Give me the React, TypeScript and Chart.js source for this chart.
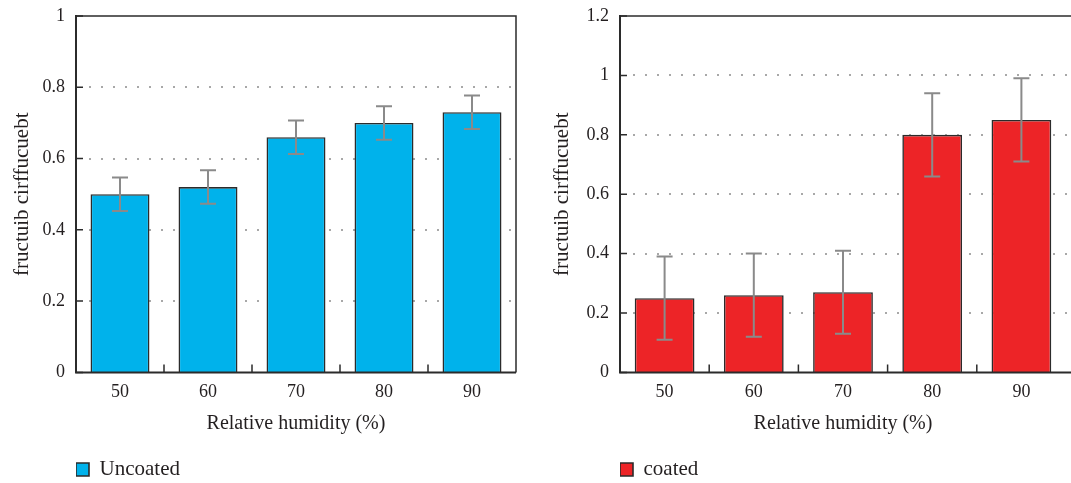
import React, { useEffect, useRef } from "react";
import { Chart, registerables } from "chart.js";

Chart.register(...registerables);

const categories = ["50", "60", "70", "80", "90"];
const uncoatedValues = [0.5, 0.52, 0.66, 0.7, 0.73];
const uncoatedErrors = [0.047, 0.047, 0.047, 0.047, 0.047];
const coatedValues = [0.25, 0.26, 0.27, 0.8, 0.85];
const coatedErrors = [0.14, 0.14, 0.14, 0.14, 0.14];
const leftYTicks = [0, 0.2, 0.4, 0.6, 0.8, 1];
const rightYTicks = [0, 0.2, 0.4, 0.6, 0.8, 1, 1.2];

const FONT = "'Liberation Serif', 'DejaVu Serif', serif";
const TEXT = "#231f20";

type PanelCfg = {
  label: string;
  values: number[];
  errors: number[];
  ticks: number[];
  color: string;
  width: number;
  left: number;
  yWidth: number;
  padRight: number;
  closeRight: boolean;
};

function makePlugin(cfg: PanelCfg) {
  return {
    id: "frameErr",
    beforeDatasetsDraw(chart: any) {
      const { ctx, chartArea: a, scales } = chart;
      const y = scales.y;
      const right = cfg.closeRight ? a.right : chart.width;
      ctx.save();
      ctx.fillStyle = "#666";
      y.ticks.forEach((t: any) => {
        if (t.value === y.min || t.value === y.max) return;
        const py = Math.round(y.getPixelForValue(t.value));
        for (let px = a.left + 14; px < right - 3; px += 12) {
          ctx.fillRect(px - 0.75, py - 0.75, 1.5, 1.5);
        }
      });
      ctx.restore();
    },
    afterDatasetsDraw(chart: any) {
      const { ctx, chartArea: a, scales } = chart;
      const x = scales.x;
      const y = scales.y;
      const right = cfg.closeRight ? a.right : chart.width;
      const meta = chart.getDatasetMeta(0);
      const data = chart.data.datasets[0].data as number[];
      ctx.save();
      // error bars
      ctx.strokeStyle = "#8a8a8a";
      ctx.lineWidth = 2;
      meta.data.forEach((bar: any, i: number) => {
        const v = data[i];
        const e = cfg.errors[i];
        const top = y.getPixelForValue(v + e);
        const bot = y.getPixelForValue(v - e);
        const cx = bar.x;
        ctx.beginPath();
        ctx.moveTo(cx, top);
        ctx.lineTo(cx, bot);
        ctx.moveTo(cx - 8, top);
        ctx.lineTo(cx + 8, top);
        ctx.moveTo(cx - 8, bot);
        ctx.lineTo(cx + 8, bot);
        ctx.stroke();
      });
      // frame
      ctx.strokeStyle = "#2b2b2b";
      ctx.lineWidth = 1.5;
      ctx.beginPath();
      ctx.moveTo(a.left, a.top);
      ctx.lineTo(right, a.top);
      if (cfg.closeRight) ctx.lineTo(a.right, a.bottom);
      ctx.stroke();
      ctx.lineWidth = 2;
      ctx.beginPath();
      ctx.moveTo(a.left, a.top - 1);
      ctx.lineTo(a.left, a.bottom);
      ctx.lineTo(right, a.bottom);
      ctx.stroke();
      // y tick marks (inward)
      ctx.lineWidth = 1.5;
      ctx.beginPath();
      y.ticks.forEach((t: any) => {
        const py = y.getPixelForValue(t.value);
        ctx.moveTo(a.left, py);
        ctx.lineTo(a.left + 7, py);
      });
      // x tick marks at category boundaries
      for (let i = 0; i < categories.length - 1; i++) {
        const px = (x.getPixelForValue(i) + x.getPixelForValue(i + 1)) / 2;
        ctx.moveTo(px, a.bottom);
        ctx.lineTo(px, a.bottom - 8);
      }
      ctx.stroke();
      ctx.restore();
    },
  };
}

function Panel({ cfg }: { cfg: PanelCfg }) {
  const ref = useRef<HTMLCanvasElement>(null);
  useEffect(() => {
    if (!ref.current) return;
    const chart = new Chart(ref.current, {
      type: "bar",
      data: {
        labels: categories,
        datasets: [
          {
            label: cfg.label,
            data: cfg.values,
            backgroundColor: cfg.color,
            borderColor: "#2b2b2b",
            borderWidth: 1.6,
            categoryPercentage: 1,
            barPercentage: 0.67,
          },
        ],
      },
      options: {
        responsive: false,
        animation: false,
        layout: { padding: { left: 0, right: cfg.padRight, top: 16, bottom: -7 } },
        plugins: {
          tooltip: { enabled: false },
          legend: {
            display: true,
            position: "bottom",
            align: "start",
            fullSize: false,
            labels: {
              boxWidth: 13,
              boxHeight: 13,
              padding: 0,
              color: TEXT,
              font: { family: FONT, size: 21 },
            },
          },
        },
        scales: {
          x: {
            type: "category",
            grid: { display: false, drawTicks: false },
            border: { display: false },
            ticks: { color: TEXT, font: { family: FONT, size: 18 }, padding: 9 },
            title: {
              display: true,
              text: "Relative humidity (%)",
              color: TEXT,
              font: { family: FONT, size: 20 },
              padding: { top: 0, bottom: 23 },
            },
          },
          y: {
            type: "linear",
            min: 0,
            max: cfg.ticks[cfg.ticks.length - 1],
            grid: { display: false, drawTicks: false },
            border: { display: false },
            afterBuildTicks: (s: any) => {
              s.ticks = cfg.ticks.map((v) => ({ value: v }));
            },
            afterFit: (s: any) => {
              s.width = cfg.yWidth;
              s.paddingTop = 0;
              s.paddingBottom = 0;
            },
            ticks: {
              color: TEXT,
              font: { family: FONT, size: 18 },
              padding: 11,
              callback: (v: any) => String(v),
            },
            title: {
              display: true,
              text: "fructuib cirffucuebt",
              color: TEXT,
              font: { family: FONT, size: 21 },
              padding: { top: 10, bottom: 0 },
            },
          },
        },
      },
      plugins: [makePlugin(cfg)],
    } as any);
    return () => chart.destroy();
  }, [cfg]);
  return (
    <canvas
      ref={ref}
      width={cfg.width}
      height={483}
      style={{ position: "absolute", left: cfg.left, top: 0, width: cfg.width, height: 483 }}
    />
  );
}

const leftCfg: PanelCfg = {
  label: "Uncoated",
  values: uncoatedValues,
  errors: uncoatedErrors,
  ticks: leftYTicks,
  color: "#00b2eb",
  width: 540,
  left: 0,
  yWidth: 76,
  padRight: 24,
  closeRight: true,
};

const rightCfg: PanelCfg = {
  label: "coated",
  values: coatedValues,
  errors: coatedErrors,
  ticks: rightYTicks,
  color: "#ed2427",
  width: 531,
  left: 540,
  yWidth: 80,
  padRight: 5,
  closeRight: false,
};

export default function App() {
  return (
    <div
      style={{
        position: "fixed",
        left: 0,
        top: 0,
        width: 1071,
        height: 483,
        overflow: "hidden",
        background: "#fff",
      }}
    >
      <Panel cfg={leftCfg} />
      <Panel cfg={rightCfg} />
    </div>
  );
}
